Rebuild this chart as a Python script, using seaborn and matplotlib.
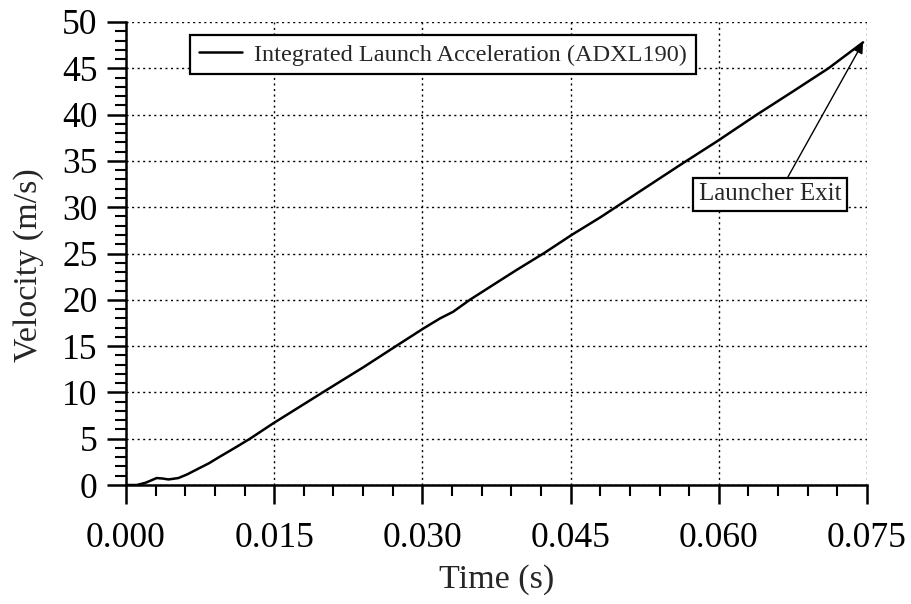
import matplotlib
matplotlib.use("Agg")
import matplotlib.pyplot as plt
from matplotlib.ticker import MultipleLocator, FormatStrFormatter
import numpy as np
import pandas as pd
import seaborn as sns

# Integrated velocity trace (time in s, velocity in m/s)
time_s = [0.0000, 0.0011, 0.0020, 0.0031, 0.0037, 0.0043, 0.0053, 0.0062, 0.0072,
          0.0084, 0.0095, 0.0110, 0.01255, 0.0149, 0.0176, 0.0203, 0.0240, 0.0274,
          0.0301, 0.0318, 0.0331, 0.0348, 0.0370, 0.0395, 0.0424, 0.0451, 0.0480,
          0.0520, 0.0560, 0.0598, 0.0638, 0.0675, 0.0711, 0.0746]
velocity_ms = [0.0, 0.0, 0.25, 0.75, 0.7, 0.6, 0.75, 1.15, 1.7,
               2.35, 3.06, 4.0, 5.0, 6.66, 8.46, 10.26, 12.7, 15.05,
               16.9, 18.0, 18.7, 20.0, 21.5, 23.2, 25.1, 27.0, 28.9,
               31.7, 34.5, 37.1, 39.96, 42.5, 45.0, 47.8]

series_label = "Integrated Launch Acceleration (ADXL190)"
exit_label = "Launcher Exit"
x_ticks = [0.000, 0.015, 0.030, 0.045, 0.060, 0.075]
y_ticks = [0, 5, 10, 15, 20, 25, 30, 35, 40, 45, 50]

df = pd.DataFrame({"Time (s)": time_s, "Velocity (m/s)": velocity_ms})

sns.set_style("ticks")
plt.rcParams["font.family"] = ["Liberation Serif", "DejaVu Serif"]

fig = plt.figure(figsize=(9.12, 6.04), dpi=100)
ax = fig.add_axes([126 / 912, 1 - 485 / 604, (867 - 126) / 912, (485 - 22) / 604])

sns.lineplot(data=df, x="Time (s)", y="Velocity (m/s)", ax=ax, color="black",
             linewidth=1.8, label=series_label)

ax.set_xlim(0, 0.075)
ax.set_ylim(0, 50)
ax.set_xticks(x_ticks)
ax.set_yticks(y_ticks)
ax.xaxis.set_major_formatter(FormatStrFormatter("%.3f"))
ax.xaxis.set_minor_locator(MultipleLocator(0.003))
ax.yaxis.set_minor_locator(MultipleLocator(1))

ax.grid(True, which="major", color="black", linestyle=(0, (1.5, 2.5)), linewidth=1.0)
ax.set_axisbelow(True)

for side in ("top", "right"):
    ax.spines[side].set_visible(False)
for side in ("left", "bottom"):
    ax.spines[side].set_linewidth(1.8)
    ax.spines[side].set_color("black")

ax.tick_params(axis="both", which="major", direction="out", length=14, width=1.8,
               labelsize=25.5, colors="black")
ax.tick_params(axis="both", which="minor", direction="out", length=8, width=1.5,
               colors="black")
ax.tick_params(axis="x", which="major", pad=12.5)
ax.tick_params(axis="y", which="major", pad=6.5)

ax.set_xlabel("Time (s)", fontsize=24.5, labelpad=7)
ax.set_ylabel("Velocity (m/s)", fontsize=24.5)
ax.yaxis.set_label_coords(-0.111, 0.475)

leg = ax.legend(loc="upper left", bbox_to_anchor=((190 - 126) / 741, (485 - 35) / 463),
                borderaxespad=0, fontsize=17.5, frameon=True, fancybox=False,
                handlelength=1.8, borderpad=0.35, handletextpad=0.5)
leg.get_frame().set_edgecolor("black")
leg.get_frame().set_linewidth(1.6)
leg.get_frame().set_alpha(1.0)

ax.annotate(exit_label, xy=(time_s[-1], velocity_ms[-1]), xytext=(0.0652, 31.4),
            fontsize=18, ha="center", va="center",
            bbox=dict(boxstyle="square,pad=0.22", fc="white", ec="black", lw=1.6),
            arrowprops=dict(arrowstyle="-|>", color="black", lw=1.0,
                            mutation_scale=16, shrinkA=0, shrinkB=0,
                            relpos=(0.6, 1.0)))

fig.savefig("out.png", dpi=100)
